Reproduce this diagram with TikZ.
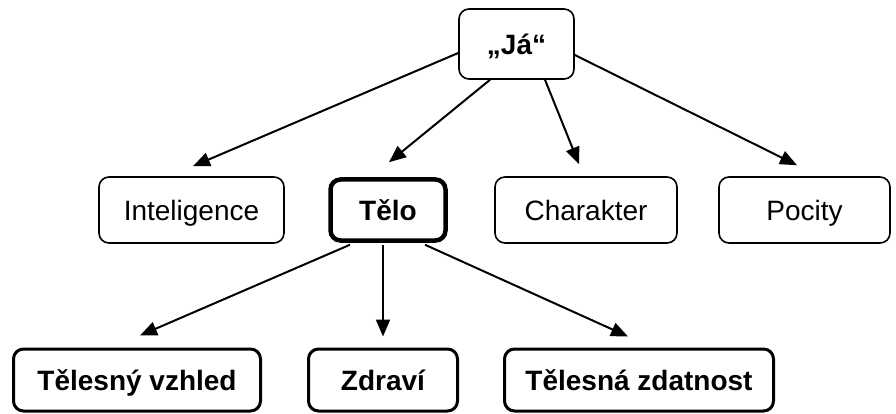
\documentclass[tikz,border=0pt]{standalone}
\usepackage{fontspec}
\setmainfont{Liberation Sans}
\usetikzlibrary{arrows.meta,calc}

\tikzset{
  box/.style={draw, rounded corners=10pt, line width=1.6pt, align=center,
    minimum height=66pt, inner sep=0pt, text height=22pt, text depth=1pt,
    font=\fontsize{28}{33}\selectfont},
  boldbox/.style={box, font=\fontsize{28}{33}\selectfont\bfseries},
  heavybox/.style={boldbox, line width=4.5pt},
  midbox/.style={boldbox, line width=3pt, minimum height=62pt},
  link/.style={line width=2pt, -{Triangle[length=17pt,width=14pt]}}
}

\begin{document}
\begin{tikzpicture}[x=1pt,y=-1pt]
  \useasboundingbox (0,0) rectangle (896,414);

  % top node
  \node[boldbox, minimum width=115pt, minimum height=70pt] (ja) at (516.5,44) {„Já“};

  % middle row
  \node[box, minimum width=185pt] (intel) at (191.5,210) {Inteligence};
  \node[heavybox, minimum width=115pt, minimum height=61pt] (telo) at (388,210) {Tělo};
  \node[box, minimum width=182pt] (char) at (586,210) {Charakter};
  \node[box, minimum width=171pt] (pocity) at (804.5,210) {Pocity};

  % bottom row
  \node[midbox, minimum width=247pt] (vzhled) at (137,380) {Tělesný vzhled};
  \node[midbox, minimum width=149pt] (zdravi) at (383,380) {Zdraví};
  \node[midbox, minimum width=269pt] (zdatnost) at (639,380) {Tělesná zdatnost};

  % arrow tips, just above the target boxes
  \coordinate (tIntel) at ($(intel.north)+(1.5,-10)$);
  \coordinate (tTelo) at ($(telo.north)+(1,-15)$);
  \coordinate (tChar) at ($(char.north)+(-7,-12)$);
  \coordinate (tPocity) at ($(pocity.north)+(-7.5,-11)$);
  \coordinate (tVzhled) at ($(vzhled.north)+(3,-12)$);
  \coordinate (tZdravi) at ($(zdravi.north)+(0,-11)$);
  \coordinate (tZdatnost) at ($(zdatnost.north)+(-11,-11)$);

  % connectors from „Já“
  \draw[link] ($(ja.west)+(0,9)$) -- (tIntel);
  \draw[link] ($(ja.south)+(-26.5,0)$) -- (tTelo);
  \draw[link] ($(ja.south)+(28.5,0)$) -- (tChar);
  \draw[link] ($(ja.east)+(0,11)$) -- (tPocity);

  % connectors from Tělo
  \draw[link] ($(telo.south)+(-38,2)$) -- (tVzhled);
  \draw[link] ($(telo.south)+(-5,2)$) -- (tZdravi);
  \draw[link] ($(telo.south)+(37,2)$) -- (tZdatnost);
\end{tikzpicture}
\end{document}
